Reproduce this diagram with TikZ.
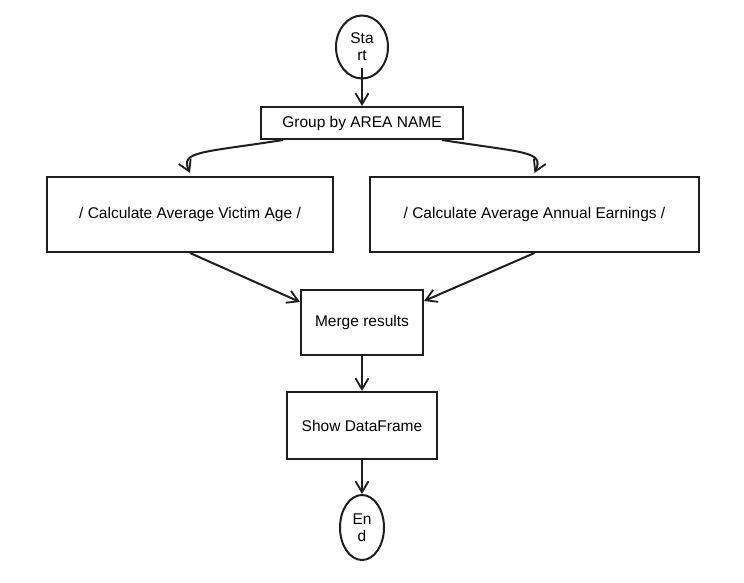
\documentclass[tikz,border=0pt]{standalone}
\usepackage{fontspec}
\setmainfont{Liberation Sans}
\usetikzlibrary{arrows.meta,shapes.geometric}
\definecolor{ink}{HTML}{1E1E1E}

\begin{document}
\begin{tikzpicture}[x=1pt,y=-1pt,
    box/.style={draw=ink,line width=2pt,inner sep=0pt,font=\fontsize{15.5}{17}\selectfont},
    term/.style={draw=ink,ellipse,line width=2pt,inner sep=0pt,align=center,font=\fontsize{15.5}{17}\selectfont},
    arr/.style={draw=ink,line width=2pt,-{Straight Barb[length=11pt,width=13pt,line width=1.8pt]}}]
  \useasboundingbox (0,0) rectangle (744,583);
    \node(st) at (362,47) [term,minimum width=52pt,minimum height=63pt] {Sta\\rt};
    \node(grp) at (362,123) [box,minimum width=202pt,minimum height=32pt] {Group by AREA NAME};
    \node(cage) at (190,214.5) [box,minimum width=286pt,minimum height=75pt] {/ Calculate Average Victim Age /};
    \node(cearn) at (534.5,214.5) [box,minimum width=329pt,minimum height=75pt] {/ Calculate Average Annual Earnings /};
    \node(mrg) at (362,322.5) [box,minimum width=122pt,minimum height=65pt] {Merge results};
    \node(show) at (362,425.5) [box,minimum width=150pt,minimum height=67pt] {Show DataFrame};
    \node(en) at (362,527.5) [term,minimum width=44pt,minimum height=65pt] {En\\d};
    % connectors
    \draw[arr] ([yshift=11pt]st.south) -- (grp.north);
    \draw[arr] ([xshift=-79pt]grp.south) .. controls +(-83,13) and +(-10,-22) .. ([yshift=3pt]cage.north);
    \draw[arr] ([xshift=80pt]grp.south) .. controls +(83,13) and +(10,-22) .. ([yshift=3pt]cearn.north);
    \draw[arr] (cage.south) -- ([yshift=-13pt]mrg.north west);
    \draw[arr] (cearn.south) -- ([yshift=-12pt]mrg.north east);
    \draw[arr] (mrg) -- (show);
    \draw[arr] (show) -- (en);
\end{tikzpicture}
\end{document}
